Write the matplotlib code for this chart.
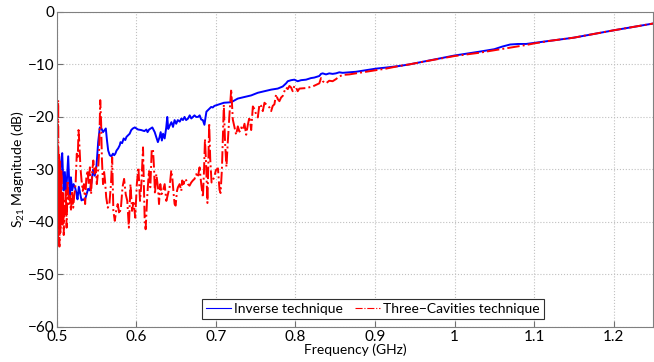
import matplotlib
matplotlib.use("Agg")
import matplotlib.pyplot as plt
from matplotlib.ticker import FuncFormatter

plt.rcParams['font.family'] = ['Lato', 'DejaVu Sans']
plt.rcParams['mathtext.fontset'] = 'custom'
plt.rcParams['mathtext.rm'] = 'Lato'

# Inverse technique (blue, solid)
inv_f = [0.5000, 0.5008, 0.5017, 0.5030, 0.5040, 0.5050, 0.5067, 0.5075, 0.5084, 0.5100,
         0.5115, 0.5142, 0.5163, 0.5176, 0.5192, 0.5209, 0.5226, 0.5247, 0.5259, 0.5276,
         0.5293, 0.5310, 0.5330, 0.5351, 0.5372, 0.5393, 0.5414, 0.5435, 0.5456, 0.5476,
         0.5497, 0.5519, 0.5540, 0.5560, 0.5580, 0.5600, 0.5615, 0.5630, 0.5645, 0.5665,
         0.5685, 0.5705, 0.5720, 0.5735, 0.5750, 0.5770, 0.5790, 0.5800, 0.5820, 0.5840,
         0.5860, 0.5875, 0.5895, 0.5915, 0.5935, 0.5955, 0.5980, 0.6020, 0.6060, 0.6100,
         0.6125, 0.6140, 0.6160, 0.6180, 0.6200, 0.6230, 0.6270, 0.6290, 0.6305, 0.6320,
         0.6335, 0.6355, 0.6375, 0.6388, 0.6400, 0.6420, 0.6440, 0.6460, 0.6480, 0.6500,
         0.6520, 0.6545, 0.6565, 0.6585, 0.6605, 0.6625, 0.6650, 0.6670, 0.6690, 0.6710,
         0.6730, 0.6750, 0.6775, 0.6795, 0.6815, 0.6835, 0.6855, 0.6880, 0.6900, 0.6920,
         0.6940, 0.6960, 0.6980, 0.7020, 0.7060, 0.7100, 0.7192, 0.7275, 0.7359, 0.7443,
         0.7526, 0.7610, 0.7694, 0.7777, 0.7840, 0.7882, 0.7903, 0.7945, 0.7986, 0.8028,
         0.8070, 0.8133, 0.8195, 0.8237, 0.8258, 0.8300, 0.8321, 0.8342, 0.8384, 0.8425,
         0.8467, 0.8509, 0.8551, 0.8593, 0.8676, 0.8760, 0.8885, 0.9011, 0.9136, 0.9304,
         0.9429, 0.9700, 1.0000, 1.0300, 1.0500, 1.0600, 1.0700, 1.0800, 1.0900, 1.1000,
         1.1200, 1.1500, 1.2000, 1.2500]
inv_db = [-32.0, -33.3, -30.6, -34.0, -32.0, -29.0, -26.9, -30.5, -34.0, -30.5,
          -35.0, -27.5, -35.5, -31.5, -34.0, -32.8, -33.3, -34.6, -35.7, -33.3,
          -34.6, -35.9, -35.7, -35.9, -34.8, -33.7, -34.0, -32.5, -30.0, -31.2,
          -29.5, -24.8, -22.0, -22.2, -22.9, -22.5, -22.2, -24.5, -26.4, -27.3,
          -27.5, -27.0, -27.3, -27.0, -26.4, -26.0, -25.4, -24.8, -25.0, -24.1,
          -24.4, -23.8, -23.5, -23.2, -22.5, -22.2, -22.0, -22.4, -22.5, -22.7,
          -22.4, -22.9, -22.4, -22.2, -22.0, -22.9, -24.8, -23.9, -22.9, -24.5,
          -23.2, -24.1, -22.0, -20.0, -22.3, -21.6, -21.0, -21.9, -20.6, -21.3,
          -20.6, -20.9, -20.3, -20.6, -20.0, -20.6, -20.3, -19.7, -20.3, -20.0,
          -19.7, -20.0, -20.0, -19.7, -20.5, -20.6, -21.5, -19.0, -18.7, -18.4,
          -18.1, -18.2, -17.9, -17.7, -17.5, -17.3, -17.2, -16.5, -16.2, -15.9,
          -15.4, -15.1, -14.8, -14.6, -14.2, -13.6, -13.2, -13.0, -12.9, -13.2,
          -13.0, -12.9, -12.6, -12.5, -12.4, -12.2, -11.8, -11.7, -11.9, -11.7,
          -11.8, -11.7, -11.5, -11.6, -11.5, -11.4, -11.1, -10.8, -10.6, -10.3,
          -10.0, -9.2, -8.3, -7.6, -7.1, -6.6, -6.2, -6.1, -6.1, -5.9,
          -5.5, -4.9, -3.5, -2.2]

# Three-Cavities technique (red, dash-dot)
tc_f = [0.5000, 0.5004, 0.5008, 0.5012, 0.5016, 0.5020, 0.5024, 0.5028, 0.5032, 0.5036,
        0.5040, 0.5044, 0.5048, 0.5052, 0.5056, 0.5062, 0.5070, 0.5078, 0.5086, 0.5094,
        0.5102, 0.5112, 0.5122, 0.5135, 0.5150, 0.5162, 0.5176, 0.5190, 0.5205, 0.5220,
        0.5235, 0.5250, 0.5262, 0.5272, 0.5282, 0.5296, 0.5310, 0.5325, 0.5340, 0.5355,
        0.5370, 0.5385, 0.5400, 0.5415, 0.5430, 0.5445, 0.5458, 0.5472, 0.5488, 0.5502,
        0.5515, 0.5530, 0.5545, 0.5556, 0.5566, 0.5580, 0.5592, 0.5605, 0.5620, 0.5640,
        0.5660, 0.5680, 0.5695, 0.5710, 0.5728, 0.5745, 0.5765, 0.5785, 0.5805, 0.5825,
        0.5845, 0.5865, 0.5885, 0.5905, 0.5925, 0.5945, 0.5965, 0.5985, 0.6005, 0.6025,
        0.6045, 0.6062, 0.6083, 0.6092, 0.6104, 0.6116, 0.6133, 0.6146, 0.6158, 0.6175,
        0.6192, 0.6208, 0.6221, 0.6233, 0.6250, 0.6271, 0.6284, 0.6300, 0.6317, 0.6334,
        0.6355, 0.6376, 0.6397, 0.6417, 0.6438, 0.6451, 0.6468, 0.6480, 0.6493, 0.6510,
        0.6522, 0.6543, 0.6564, 0.6576, 0.6593, 0.6610, 0.6627, 0.6647, 0.6668, 0.6689,
        0.6710, 0.6731, 0.6752, 0.6773, 0.6794, 0.6815, 0.6836, 0.6850, 0.6862, 0.6876,
        0.6893, 0.6915, 0.6928, 0.6945, 0.6978, 0.7000, 0.7025, 0.7045, 0.7058, 0.7075,
        0.7099, 0.7115, 0.7132, 0.7150, 0.7170, 0.7192, 0.7212, 0.7233, 0.7254, 0.7275,
        0.7296, 0.7317, 0.7338, 0.7359, 0.7380, 0.7401, 0.7422, 0.7443, 0.7464, 0.7484,
        0.7505, 0.7526, 0.7547, 0.7568, 0.7589, 0.7610, 0.7631, 0.7652, 0.7673, 0.7694,
        0.7714, 0.7735, 0.7756, 0.7777, 0.7798, 0.7819, 0.7840, 0.7861, 0.7882, 0.7903,
        0.7924, 0.7945, 0.7965, 0.7986, 0.8007, 0.8028, 0.8049, 0.8133, 0.8216, 0.8300,
        0.8321, 0.8342, 0.8384, 0.8425, 0.8467, 0.8509, 0.8551, 0.8593, 0.8676, 0.8760,
        0.8885, 0.9011, 0.9136, 0.9304, 0.9429, 0.9600, 1.0000, 1.0300, 1.0500, 1.0700,
        1.0900, 1.1000, 1.1200, 1.1500, 1.2000, 1.2500]
tc_db = [-30.0, -38.0, -44.5, -24.0, -16.8, -31.0, -40.0, -27.0, -44.7, -35.0,
         -28.5, -42.0, -33.0, -38.5, -30.0, -36.0, -40.5, -34.5, -42.5, -36.0,
         -38.5, -34.0, -41.1, -32.1, -36.6, -35.0, -37.9, -34.1, -37.3, -34.7,
         -32.8, -27.0, -28.0, -22.5, -25.0, -29.6, -32.1, -34.1, -32.8, -36.6,
         -31.5, -30.2, -32.8, -29.6, -34.7, -30.2, -28.3, -30.8, -29.6, -32.8,
         -30.8, -27.0, -16.8, -21.0, -28.0, -32.8, -30.2, -32.1, -35.3, -37.3,
         -36.6, -32.8, -27.7, -37.9, -39.8, -37.9, -36.6, -38.5, -37.3, -33.4,
         -31.8, -34.7, -36.0, -41.1, -32.8, -37.9, -36.0, -39.2, -32.8, -29.6,
         -36.0, -32.8, -25.8, -32.0, -39.8, -41.4, -36.0, -32.8, -30.2, -33.4,
         -26.4, -26.1, -29.6, -34.7, -30.9, -33.4, -36.6, -32.8, -34.7, -34.1,
         -32.8, -36.0, -34.7, -33.4, -30.2, -31.5, -34.7, -36.6, -36.9, -34.1,
         -33.4, -32.8, -34.1, -32.1, -32.8, -31.8, -32.1, -32.8, -33.1, -32.5,
         -32.1, -31.8, -30.9, -31.5, -29.6, -32.8, -35.3, -30.2, -24.2, -29.0,
         -36.4, -21.2, -28.0, -32.5, -31.5, -30.1, -29.8, -33.9, -34.5, -30.0,
         -17.7, -25.0, -29.5, -24.5, -19.5, -14.7, -20.5, -22.0, -23.4, -21.8,
         -22.8, -22.0, -22.5, -21.3, -23.4, -21.5, -20.0, -22.5, -18.0, -18.5,
         -19.5, -20.1, -17.6, -17.9, -18.9, -17.3, -17.6, -17.9, -18.2, -18.9,
         -17.9, -17.6, -15.7, -16.6, -17.0, -16.3, -16.0, -15.1, -14.4, -14.7,
         -14.1, -14.4, -15.1, -14.1, -14.4, -15.1, -14.6, -14.5, -14.2, -13.6,
         -12.6, -13.2, -13.6, -13.1, -13.2, -12.8, -12.3, -12.0, -11.9, -11.7,
         -11.4, -11.1, -10.8, -10.3, -10.0, -9.5, -8.4, -7.8, -7.3, -6.8,
         -6.3, -6.0, -5.5, -4.9, -3.5, -2.2]

x_ticks = [0.5, 0.6, 0.7, 0.8, 0.9, 1.0, 1.1, 1.2]
y_ticks = [-60, -50, -40, -30, -20, -10, 0]

fig = plt.figure(figsize=(6.54, 3.62), dpi=100)
ax = fig.add_axes([0.087, 0.097, 0.912, 0.870])

ax.plot(inv_f, inv_db, color='#0000ff', lw=1.4, label='Inverse technique')
ax.plot(tc_f, tc_db, color='#ff0000', lw=1.4, ls='-.', label='Three\u2212Cavities technique')

ax.set_xlim(0.5, 1.25)
ax.set_ylim(-60, 0)
ax.set_xticks(x_ticks)
ax.set_yticks(y_ticks)
ax.xaxis.set_major_formatter(FuncFormatter(lambda v, p: f"{v:g}"))
ax.grid(True, color='#c0c0c0', ls=':', lw=0.8)
ax.tick_params(direction='in', length=4, labelsize=11, color='#707070', pad=2)
for s in ax.spines.values():
    s.set_color('#808080')

ax.set_xlabel('Frequency (GHz)', fontsize=10, labelpad=0)
ax.set_ylabel(r'S$_{\mathregular{21}}$ Magnitude (dB)', fontsize=10)
ax.yaxis.set_label_coords(-0.05, 0.5)

leg = ax.legend(loc='lower center', bbox_to_anchor=(0.53, 0.015), ncol=2, fontsize=10,
                fancybox=False, framealpha=1, edgecolor='#303030', handlelength=1.8,
                handletextpad=0.2, columnspacing=0.9, borderpad=0.3, borderaxespad=0.2)
leg.get_frame().set_linewidth(0.8)
for line in leg.get_lines():
    line.set_linewidth(0.8)

fig.savefig('out.png', dpi=100)
